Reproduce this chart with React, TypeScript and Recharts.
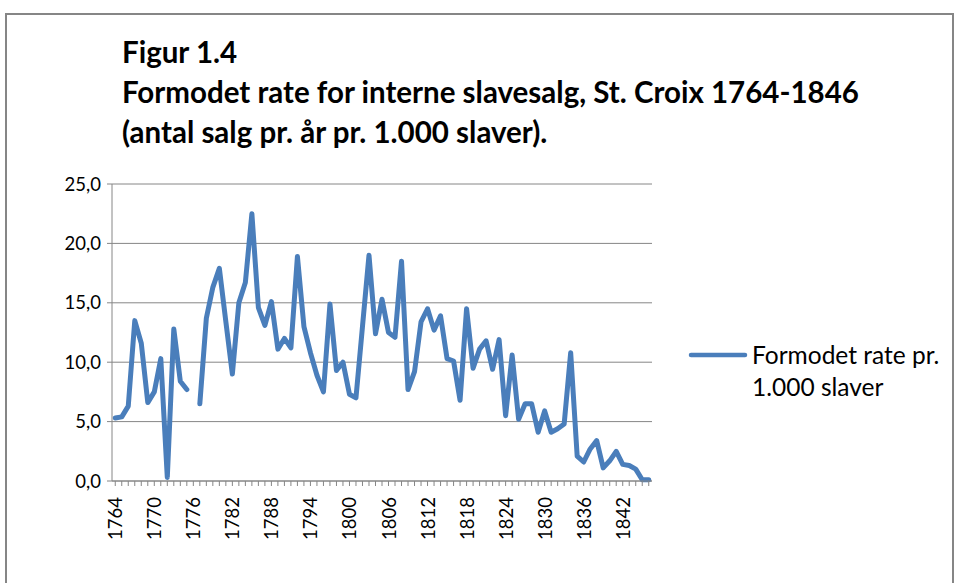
import { LineChart, Line, XAxis, YAxis, CartesianGrid } from "recharts";

const YEARS = [
  1764, 1765, 1766, 1767, 1768, 1769, 1770, 1771, 1772, 1773, 1774, 1775,
  1776, 1777, 1778, 1779, 1780, 1781, 1782, 1783, 1784, 1785, 1786, 1787,
  1788, 1789, 1790, 1791, 1792, 1793, 1794, 1795, 1796, 1797, 1798, 1799,
  1800, 1801, 1802, 1803, 1804, 1805, 1806, 1807, 1808, 1809, 1810, 1811,
  1812, 1813, 1814, 1815, 1816, 1817, 1818, 1819, 1820, 1821, 1822, 1823,
  1824, 1825, 1826, 1827, 1828, 1829, 1830, 1831, 1832, 1833, 1834, 1835,
  1836, 1837, 1838, 1839, 1840, 1841, 1842, 1843, 1844, 1845, 1846,
];

// rate per 1.000 slaves; 1776 is missing in the source
const RATE: (number | null)[] = [
  5.3, 5.4, 6.3, 13.5, 11.6, 6.6, 7.5, 10.3, 0.3, 12.8, 8.4, 7.7,
  null, 6.5, 13.7, 16.3, 17.9, 13.4, 9.0, 15.0, 16.7, 22.5, 14.6, 13.1,
  15.1, 11.1, 12.0, 11.2, 18.9, 13.0, 10.8, 8.9, 7.5, 14.9, 9.3, 10.0,
  7.3, 7.0, 13.0, 19.0, 12.4, 15.3, 12.5, 12.1, 18.5, 7.7, 9.2, 13.4,
  14.5, 12.7, 13.9, 10.3, 10.1, 6.8, 14.5, 9.5, 11.1, 11.8, 9.4, 11.9,
  5.5, 10.6, 5.2, 6.5, 6.5, 4.1, 5.9, 4.1, 4.4, 4.8, 10.8, 2.1,
  1.6, 2.7, 3.4, 1.1, 1.7, 2.5, 1.4, 1.3, 1.0, 0.1, 0.1,
];

const Y_TICKS = [0, 5, 10, 15, 20, 25];
const LABEL_EVERY = 6;

const TITLE = [
  "Figur 1.4",
  "Formodet rate for interne slavesalg, St. Croix 1764-1846",
  "(antal salg pr. år pr. 1.000 slaver).",
];
const LEGEND_LINES = ["Formodet rate pr.", "1.000 slaver"];

const data = YEARS.map((year, i) => ({ year: String(year), rate: RATE[i] }));

const BLUE = "#4a7ebb";
const GRAY = "#868686";
const FONT = "Lato, 'Open Sans', sans-serif";

const fmt = (v: number) => v.toFixed(1).replace(".", ",");

function YearTick(props: any) {
  const { x, y, payload, index } = props;
  if (index % LABEL_EVERY !== 0) return null;
  return (
    <text
      x={x}
      y={y}
      transform={`rotate(-90 ${x} ${y})`}
      textAnchor="end"
      dominantBaseline="central"
      fill="#000"
      fontSize={18.5}
      fontFamily={FONT}
    >
      {payload.value}
    </text>
  );
}

export default function App() {
  return (
    <div
      style={{
        position: "absolute",
        left: 0,
        top: 0,
        width: 956,
        height: 583,
        overflow: "hidden",
        background: "#fff",
        fontFamily: FONT,
      }}
    >
      <div
        style={{
          position: "absolute",
          left: 5,
          top: 13,
          width: 945,
          height: 620,
          border: `2px solid ${GRAY}`,
        }}
      />
      <div
        style={{
          position: "absolute",
          left: 122,
          top: 32,
          fontWeight: 700,
          fontSize: 29.5,
          lineHeight: "40px",
          color: "#000",
          whiteSpace: "nowrap",
        }}
      >
        {TITLE.map((t) => (
          <div key={t}>{t}</div>
        ))}
      </div>

      <div style={{ position: "absolute", left: 0, top: 0 }}>
        <LineChart
          width={956}
          height={583}
          data={data}
          margin={{ top: 184, right: 304, bottom: 42, left: 0 }}
        >
          <CartesianGrid vertical={false} stroke={GRAY} strokeWidth={1} />
          <XAxis
            dataKey="year"
            scale="band"
            interval={0}
            height={60}
            tick={<YearTick />}
            tickSize={5}
            tickMargin={11}
            axisLine={{ stroke: GRAY }}
            tickLine={{ stroke: GRAY }}
          />
          <YAxis
            width={112}
            domain={[0, 25]}
            ticks={Y_TICKS}
            tickFormatter={fmt}
            tickSize={5}
            tickMargin={6}
            axisLine={{ stroke: GRAY }}
            tickLine={{ stroke: GRAY }}
            tick={{ fill: "#000", fontSize: 18.5, fontFamily: FONT }}
          />
          <Line
            type="linear"
            dataKey="rate"
            stroke={BLUE}
            strokeWidth={5}
            strokeLinejoin="round"
            strokeLinecap="round"
            dot={false}
            connectNulls={false}
            isAnimationActive={false}
          />
        </LineChart>
      </div>

      <div style={{ position: "absolute", left: 688, top: 339 }}>
        <svg width={60} height={32} style={{ position: "absolute", left: 0, top: 0 }}>
          <line x1={3} y1={16} x2={57} y2={16} stroke={BLUE} strokeWidth={4.5} strokeLinecap="round" />
        </svg>
        <div
          style={{
            position: "absolute",
            left: 64,
            top: 0,
            fontSize: 24.5,
            lineHeight: "32px",
            color: "#000",
            whiteSpace: "nowrap",
          }}
        >
          {LEGEND_LINES.map((t) => (
            <div key={t}>{t}</div>
          ))}
        </div>
      </div>
    </div>
  );
}
